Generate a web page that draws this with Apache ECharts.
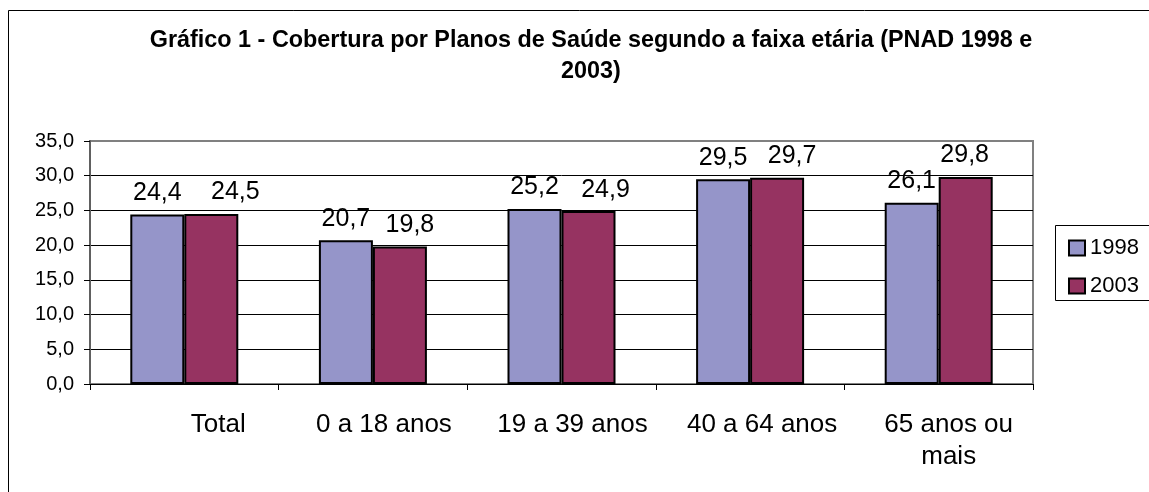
<!DOCTYPE html>
<html>
<head>
<meta charset="utf-8">
<script src="https://cdn.jsdelivr.net/npm/echarts@6/dist/echarts.min.js"></script>
<style>
  html, body { margin: 0; padding: 0; background: #fff; }
  #chart { width: 1149px; height: 492px; }
</style>
</head>
<body>
<div id="chart"></div>
<script>
// dados (PNAD 1998 e 2003)
const categories = ['Total', '0 a 18 anos', '19 a 39 anos', '40 a 64 anos', '65 anos ou\nmais'];
const values1998 = [24.4, 20.7, 25.2, 29.5, 26.1];
const values2003 = [24.5, 19.8, 24.9, 29.7, 29.8];
const seriesNames = ['1998', '2003'];

const fmt = v => v.toFixed(1).replace('.', ',');
const font = 'Arial, "Liberation Sans", sans-serif';

// deslocamentos dos rótulos como no Excel
const labelPads = [[0, 0, 0, 68], [0, 0, 0, 22], [0, 0, 0, 22], [0, 0, 0, 24], [0, 0, 0, 20]];
const shift2003 = [24, 10, 17, 15, -1];

const chart = echarts.init(document.getElementById('chart'));

const labelStyle = { show: true, position: 'top', distance: 9, fontFamily: font, fontSize: 25, color: '#000', formatter: p => fmt(p.value) };

chart.setOption({
  animation: false,
  title: {
    text: 'Gráfico 1 - Cobertura por Planos de Saúde segundo a faixa etária (PNAD 1998 e\n2003)',
    left: 586,
    top: 20,
    textAlign: 'center',
    textStyle: { fontFamily: font, fontSize: 23.4, fontWeight: 'bold', color: '#000', lineHeight: 31, align: 'center' }
  },
  graphic: [
    { type: 'rect', shape: { x: 8.5, y: 10.5, width: 1160, height: 500 }, style: { fill: 'none', stroke: '#000', lineWidth: 1 }, z: -1 },
    { type: 'rect', shape: { x: 1055.5, y: 225.5, width: 110, height: 75 }, style: { fill: '#fff', stroke: '#000', lineWidth: 1 }, z: 0 }
  ],
  legend: {
    orient: 'vertical',
    left: 1063,
    top: 232,
    icon: 'rect',
    itemWidth: 16,
    itemHeight: 15,
    itemGap: 16,
    textStyle: { fontFamily: font, fontSize: 22, color: '#000', lineHeight: 22 },
    data: seriesNames.map(n => ({ name: n, itemStyle: { borderColor: '#000', borderWidth: 2 } }))
  },
  grid: {
    left: 90, right: 116, top: 141, bottom: 108,
    show: true, borderColor: '#808080', borderWidth: 2, backgroundColor: '#fff'
  },
  xAxis: {
    type: 'category',
    data: categories.map((c, i) => ({ value: c, textStyle: { padding: labelPads[i] } })),
    axisLine: { lineStyle: { color: '#000', width: 1 } },
    axisTick: { show: true, length: 6, lineStyle: { color: '#000' } },
    axisLabel: { fontFamily: font, fontSize: 26, color: '#000', margin: 25, lineHeight: 32, interval: 0 }
  },
  yAxis: {
    type: 'value',
    min: 0, max: 35, interval: 5,
    axisLine: { show: true, lineStyle: { color: '#606060', width: 2 } },
    axisTick: { show: true, length: 6, lineStyle: { color: '#000' } },
    axisLabel: { fontFamily: font, fontSize: 20, color: '#000', margin: 16, formatter: v => fmt(v) },
    splitLine: { lineStyle: { color: ['#000', '#000', '#000', '#000', '#000', '#000', '#000', '#808080'], width: 1 } }
  },
  series: [
    {
      name: seriesNames[0], type: 'bar', data: values1998,
      barWidth: 54, barGap: '0%',
      itemStyle: { color: '#9595C9', borderColor: '#000', borderWidth: 2 },
      label: labelStyle
    },
    {
      name: seriesNames[1], type: 'bar',
      data: values2003.map((v, i) => ({ value: v, label: { offset: [shift2003[i], 0] } })),
      barWidth: 54, barGap: '0%',
      itemStyle: { color: '#963361', borderColor: '#000', borderWidth: 2 },
      label: labelStyle
    }
  ]
});
</script>
</body>
</html>
